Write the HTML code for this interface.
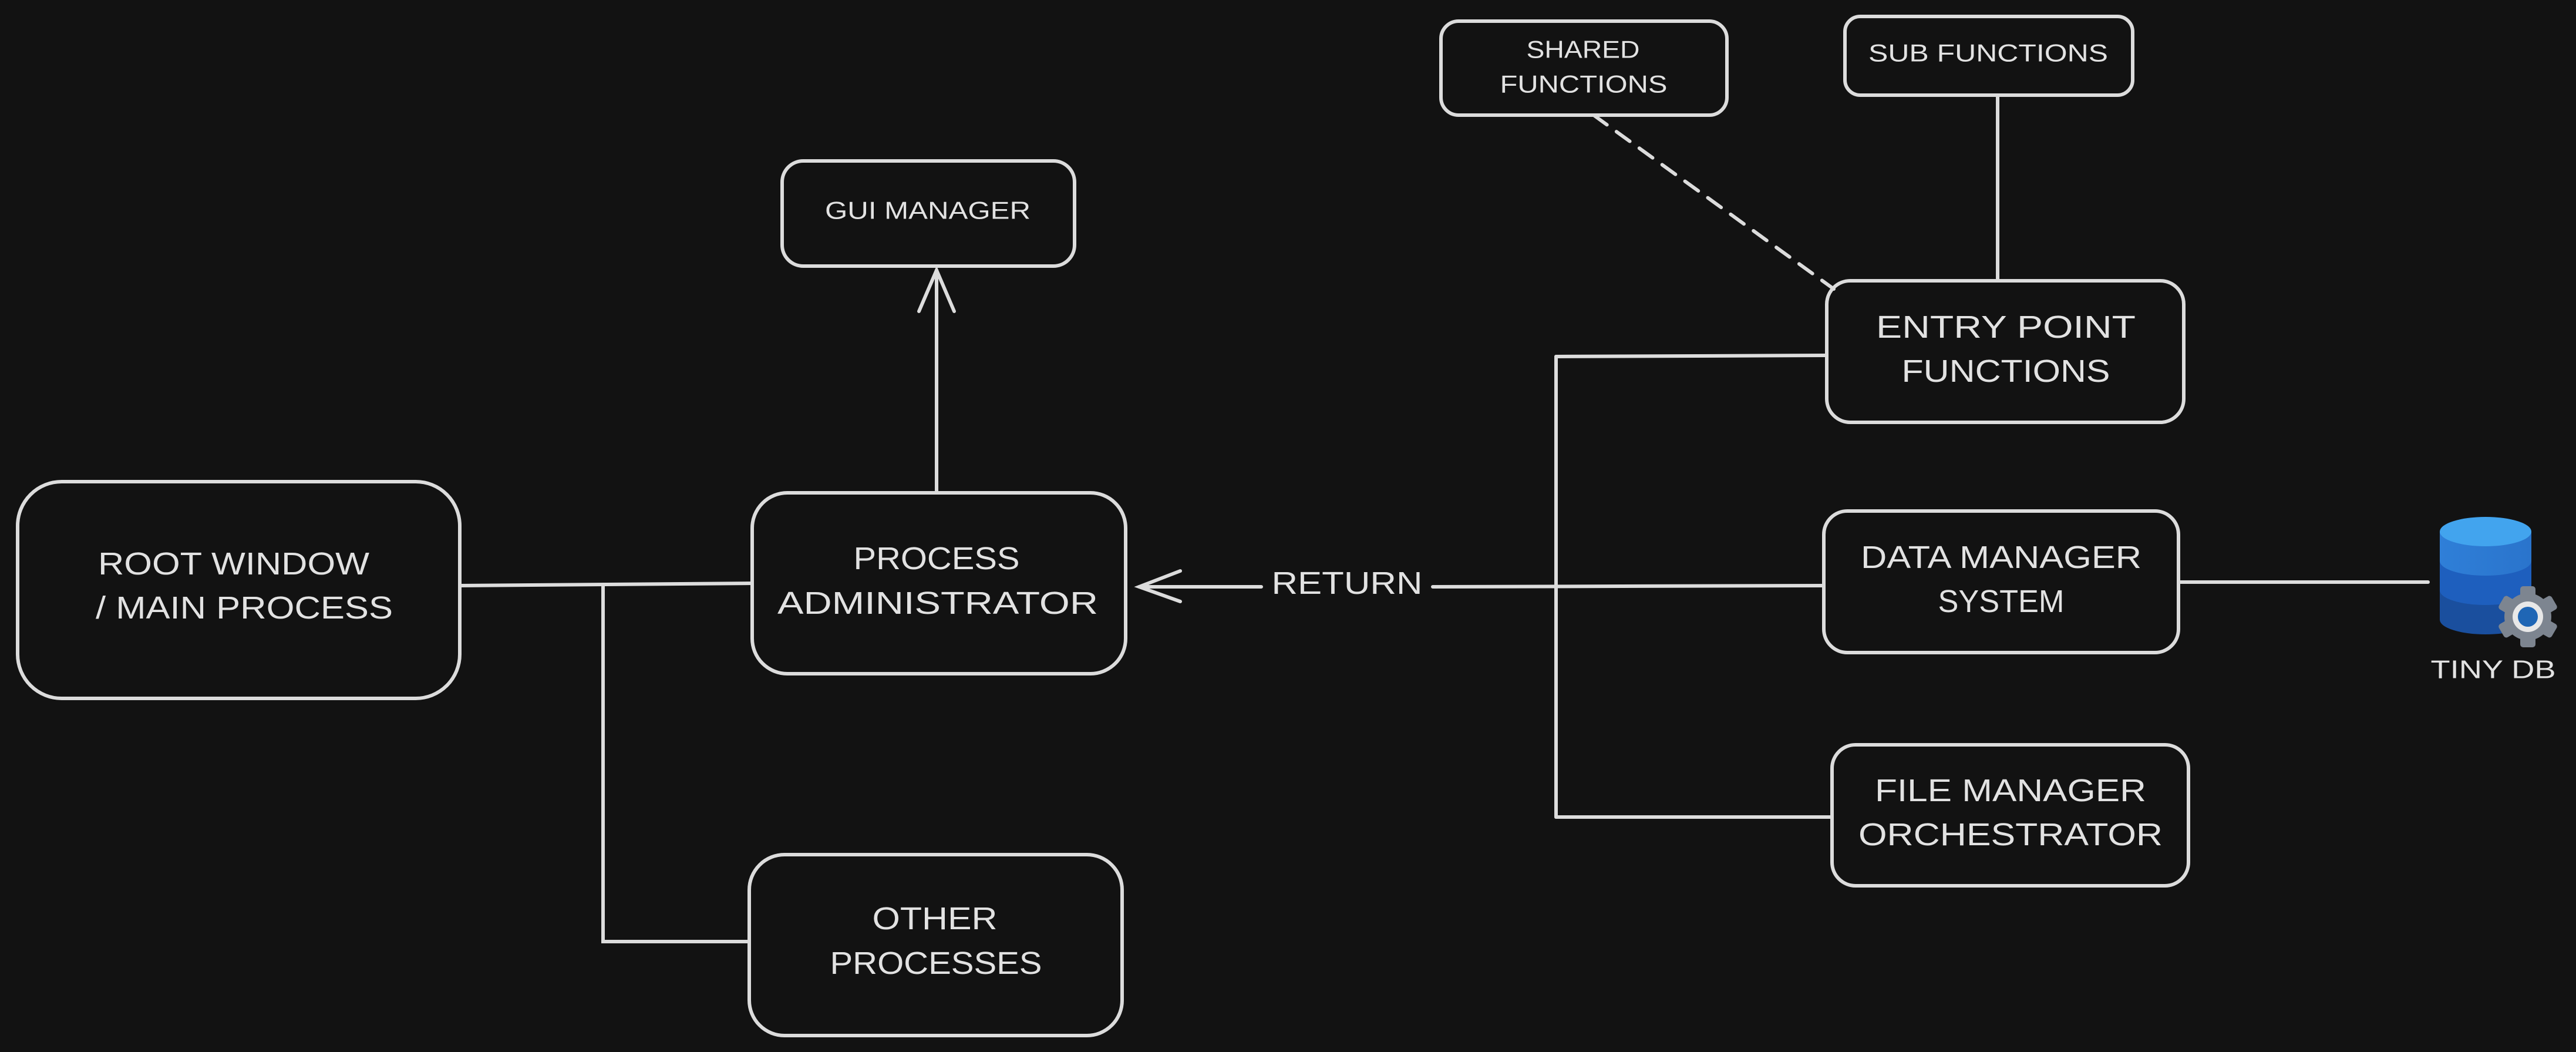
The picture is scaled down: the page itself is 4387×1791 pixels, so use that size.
<!DOCTYPE html>
<html><head><meta charset="utf-8"><style>
html,body{margin:0;padding:0;background:#121212;}
svg{display:block}
text{font-family:"Liberation Sans",sans-serif;fill:#e2e2e2;text-anchor:middle;dominant-baseline:central;}
</style></head><body>
<svg width="4387" height="1791" viewBox="0 0 4387 1791" xmlns="http://www.w3.org/2000/svg">
<rect width="4387" height="1791" fill="#121212"/>
<g fill="none" stroke="#dcdcdc" stroke-width="6" stroke-linecap="round">
  <rect x="30" y="820" width="753" height="369" rx="75"/>
  <rect x="1281" y="839" width="636" height="308" rx="60"/>
  <rect x="1332" y="274" width="498" height="179" rx="36"/>
  <rect x="1276" y="1455" width="635" height="308" rx="60"/>
  <rect x="2454" y="36" width="487" height="160" rx="30"/>
  <rect x="3142" y="28" width="490" height="134" rx="26"/>
  <rect x="3111" y="478" width="608" height="241" rx="40"/>
  <rect x="3106" y="870" width="604" height="241" rx="40"/>
  <rect x="3120" y="1268" width="607" height="240" rx="40"/>
  <path d="M783 997 L1281 993"/>
  <path d="M1027 995 L1027 1603 L1276 1603"/>
  <path d="M1595 839 L1595 460"/>
  <path d="M1565 530 L1595 460 L1625 530"/>
  <path d="M3106 997 L2440 999 M2148 999 L1940 999"/>
  <path d="M2010 972 L1940 999 L2010 1024"/>
  <path d="M2650 607 L2650 1391"/>
  <path d="M2650 607 L3111 605"/>
  <path d="M2650 1391 L3120 1391"/>
  <path d="M3710 991 L4135 991"/>
  <path d="M3402 162 L3402 478"/>
  <path d="M2714 196 L3123 492" stroke-dasharray="28 20"/>
</g>
<defs>
<linearGradient id="g1" x1="0" x2="1"><stop offset="0" stop-color="#2f7fd8"/><stop offset="1" stop-color="#2a74cc"/></linearGradient>
</defs>
<path d="M4155 905 L4155 1055 A78 25 0 0 0 4311 1055 L4311 905 Z" fill="#1a4f9e"/>
<path d="M4155 905 L4155 1005 A78 25 0 0 0 4311 1005 L4311 905 Z" fill="#1e5fbe"/>
<path d="M4155 905 L4155 955 A78 25 0 0 0 4311 955 L4311 905 Z" fill="url(#g1)"/>
<ellipse cx="4233" cy="905" rx="78" ry="25" fill="#42a4ee"/>
<g transform="translate(4305,1050)">
  <g fill="#7d8590">
    <circle r="40"/>
    <rect x="-13" y="-52" width="26" height="104" rx="5"/>
    <rect x="-13" y="-52" width="26" height="104" rx="5" transform="rotate(60)"/>
    <rect x="-13" y="-52" width="26" height="104" rx="5" transform="rotate(120)"/>
  </g>
  <circle r="26" fill="#e8e8e8"/>
  <circle r="17" fill="#1f66b5"/>
</g>
<text x="398" y="960" font-size="54" textLength="462" lengthAdjust="spacingAndGlyphs">ROOT WINDOW</text>
<text x="416" y="1035" font-size="54" textLength="506" lengthAdjust="spacingAndGlyphs">/ MAIN PROCESS</text>
<text x="1595" y="951" font-size="54" textLength="283" lengthAdjust="spacingAndGlyphs">PROCESS</text>
<text x="1597" y="1027" font-size="54" textLength="546" lengthAdjust="spacingAndGlyphs">ADMINISTRATOR</text>
<text x="1580" y="358" font-size="42" textLength="350" lengthAdjust="spacingAndGlyphs">GUI MANAGER</text>
<text x="1592" y="1564" font-size="54" textLength="213" lengthAdjust="spacingAndGlyphs">OTHER</text>
<text x="1594" y="1640" font-size="54" textLength="361" lengthAdjust="spacingAndGlyphs">PROCESSES</text>
<text x="2696" y="84" font-size="42" textLength="193" lengthAdjust="spacingAndGlyphs">SHARED</text>
<text x="2697" y="143" font-size="42" textLength="285" lengthAdjust="spacingAndGlyphs">FUNCTIONS</text>
<text x="3386" y="90" font-size="42" textLength="408" lengthAdjust="spacingAndGlyphs">SUB FUNCTIONS</text>
<text x="3416" y="557" font-size="54" textLength="442" lengthAdjust="spacingAndGlyphs">ENTRY POINT</text>
<text x="3416" y="632" font-size="54" textLength="355" lengthAdjust="spacingAndGlyphs">FUNCTIONS</text>
<text x="3408" y="949" font-size="54" textLength="478" lengthAdjust="spacingAndGlyphs">DATA MANAGER</text>
<text x="3408" y="1024" font-size="54" textLength="215" lengthAdjust="spacingAndGlyphs">SYSTEM</text>
<text x="3424" y="1346" font-size="54" textLength="462" lengthAdjust="spacingAndGlyphs">FILE MANAGER</text>
<text x="3424" y="1421" font-size="54" textLength="518" lengthAdjust="spacingAndGlyphs">ORCHESTRATOR</text>
<text x="2294" y="993" font-size="54" textLength="257" lengthAdjust="spacingAndGlyphs">RETURN</text>
<text x="4246" y="1140" font-size="44" textLength="213" lengthAdjust="spacingAndGlyphs">TINY DB</text>
</svg>
</body></html>
